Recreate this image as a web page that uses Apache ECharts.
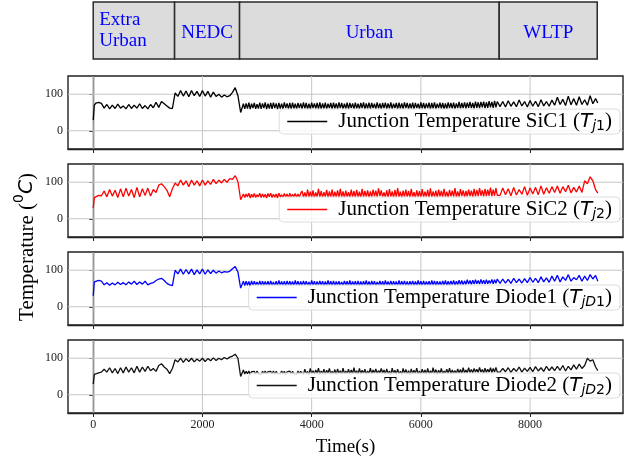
<!DOCTYPE html>
<html>
<head>
<meta charset="utf-8">
<script src="https://cdn.jsdelivr.net/npm/echarts@6/dist/echarts.min.js"></script>
<style>html,body{margin:0;padding:0;background:#fff;}#c{width:640px;height:464px;}</style>
</head>
<body>
<div id="c"></div>
<script>
const times = [0,20,50,100,150,200,250,300,350,400,450,500,550,600,650,700,750,800,850,900,950,1000,1050,1100,1150,1200,1250,1300,1350,1400,1450,1500,1550,1600,1650,1700,1750,1800,1850,1900,1950,2000,2050,2100,2150,2200,2250,2300,2350,2400,2450,2500,2550,2600,2650,2700,2750,
2775,2800,2825,2850,2875,2900,2925,2950,2975,
3000,3025,3050,3075,3100,3125,3150,3175,3200,3225,3250,3275,3300,3325,3350,3375,3400,3425,3450,3475,3500,3525,3550,3575,3600,3625,3650,3675,3700,3725,3750,3775,3800,3825,3850,3875,3900,3925,3950,3975,
4000,4025,4050,4075,4100,4125,4150,4175,4200,4225,4250,4275,4300,4325,4350,4375,4400,4425,4450,4475,4500,4525,4550,4575,4600,4625,4650,4675,4700,4725,4750,4775,4800,4825,4850,4875,4900,4925,4950,4975,
5000,5025,5050,5075,5100,5125,5150,5175,5200,5225,5250,5275,5300,5325,5350,5375,5400,5425,5450,5475,5500,5525,5550,5575,5600,5625,5650,5675,5700,5725,5750,5775,5800,5825,5850,5875,5900,5925,5950,5975,
6000,6025,6050,6075,6100,6125,6150,6175,6200,6225,6250,6275,6300,6325,6350,6375,6400,6425,6450,6475,6500,6525,6550,6575,6600,6625,6650,6675,6700,6725,6750,6775,6800,6825,6850,6875,6900,6925,6950,6975,
7000,7025,7050,7075,7100,7125,7150,7175,7200,7225,7250,7275,7300,7325,7350,7375,7400,
7450,7500,7550,7600,7650,7700,7750,7800,7850,7900,7950,8000,8050,8100,8150,8200,8250,8300,8350,8400,8450,8500,8550,8600,8650,8700,8750,8800,8850,8900,8950,9000,9050,9100,9150,9200,9240];

const sic1 = [29,70,76,78,75,62,72,60,70,61,73,62,68,60,72,61,70,62,74,61,69,60,72,63,78,64,80,74,68,62,61,104,94,110,95,109,93,110,96,108,94,110,95,108,92,106,94,100,92,98,93,96,105,118,96,50,74,
60,75,61,77,59,74,62,76,60,73,61,77,60,75,62,78,59,74,61,76,
60,77,62,75,59,76,61,74,60,78,62,75,60,76,59,77,61,74,60,76,
62,75,60,78,61,76,59,74,60,77,62,75,61,76,60,78,59,75,61,77,
60,74,62,76,59,77,61,75,60,78,62,76,60,74,61,77,59,76,62,75,
60,77,61,74,60,76,62,78,59,75,61,77,60,76,62,74,60,78,61,75,
59,76,62,77,60,75,61,78,60,74,62,76,59,77,61,75,60,78,62,76,
60,75,61,77,59,76,62,74,60,78,61,76,60,75,62,77,59,76,61,78,
60,74,62,77,61,76,59,75,60,78,62,76,61,77,60,75,62,79,61,76,
62,78,61,77,63,79,62,76,61,80,63,78,62,79,64,80,62,78,63,81,
64,79,63,82,64,80,
66,80,65,82,67,79,66,84,68,80,65,83,67,81,66,85,68,80,67,84,
70,92,72,86,69,95,71,88,70,93,72,85,70,96,74,88,76];

const sic2 = [29,58,62,64,63,76,60,80,62,78,58,82,60,84,62,80,58,86,60,82,64,84,62,80,72,92,96,88,78,60,82,98,90,106,92,104,88,106,92,104,90,106,92,104,94,108,96,106,98,108,100,110,108,118,102,52,68,
58,68,60,70,57,67,59,69,58,66,60,70,58,68,59,67,57,69,60,70,
58,67,59,68,57,70,60,66,58,69,59,68,57,70,58,67,60,69,58,68,59,70,
76,59,72,58,80,60,74,58,78,57,72,60,82,59,76,58,73,60,79,58,
75,59,80,57,74,60,78,58,82,59,75,57,77,60,73,58,80,59,76,58,
79,60,74,57,82,59,76,60,78,58,75,59,80,61,77,60,83,62,78,60,
72,59,78,58,81,60,75,57,79,59,84,60,74,58,77,59,80,60,76,58,
82,59,73,57,78,60,76,58,81,59,74,60,79,58,83,59,75,60,77,58,
80,61,76,59,82,60,74,58,79,61,77,60,84,59,75,60,81,62,78,60,
76,61,80,62,77,60,82,61,79,62,84,63,78,61,82,62,80,63,85,62,
80,63,84,64,
64,84,66,82,63,86,65,80,67,88,64,84,68,86,66,90,67,85,70,88,
72,90,70,88,74,92,71,86,73,90,72,104,96,115,104,80,70];

const diode1 = [30,68,72,72,70,60,66,59,65,60,67,61,66,60,68,62,70,61,68,62,70,60,64,66,72,76,78,72,64,60,58,100,90,103,89,102,90,103,88,101,90,103,89,101,91,100,92,98,93,96,95,97,104,110,95,51,70,
58,70,59,69,57,71,58,70,59,68,58,71,57,70,59,69,58,70,58,71,
59,68,57,70,58,72,59,69,58,70,57,71,59,70,58,69,58,72,59,70,
57,69,58,71,59,70,58,68,57,72,59,70,58,69,58,71,59,70,57,69,
58,72,59,70,58,71,57,69,59,70,58,68,58,71,59,70,57,72,58,69,
59,70,58,71,57,69,58,70,59,72,58,69,57,71,59,70,58,68,59,71,
58,70,57,72,59,69,58,71,58,70,59,69,57,72,58,70,59,71,58,69,
57,70,59,71,58,69,58,72,59,70,57,71,58,69,59,70,58,72,59,71,
58,70,59,69,58,71,59,72,58,70,59,71,60,72,59,70,60,73,61,72,
60,71,61,74,62,72,61,73,62,74,63,72,62,75,63,73,62,74,63,72,
64,75,63,74,64,76,
64,76,65,75,64,78,66,76,65,77,66,80,67,78,66,82,68,79,67,84,
70,86,68,82,72,88,70,80,74,86,70,84,72,88,76,86,70];

const diode2 = [29,56,58,60,62,70,62,74,60,72,58,74,60,76,62,74,60,78,62,76,64,78,66,72,64,80,85,76,70,58,72,96,90,100,89,99,91,100,90,98,92,100,91,99,93,101,94,100,96,102,98,103,106,111,100,50,68,
57,64,58,65,56,63,58,64,57,65,58,63,56,64,58,65,57,63,58,64,
57,65,56,64,58,63,57,65,58,64,56,63,58,65,57,64,58,63,56,65,57,64,
66,56,70,58,64,55,72,57,66,56,68,58,73,56,65,57,70,55,67,58,
72,56,64,57,69,55,71,58,66,56,73,57,65,58,70,56,68,57,74,58,
66,56,72,57,67,58,70,56,65,58,73,57,68,59,71,58,66,60,72,59,
68,56,71,57,65,55,73,58,67,56,70,57,64,56,72,58,69,57,66,55,
71,57,67,58,73,56,65,57,70,58,68,56,72,57,66,58,74,57,69,56,
67,58,72,57,65,59,70,58,73,57,68,59,66,58,71,59,69,58,74,60,
68,60,74,61,69,60,72,62,70,61,75,62,69,60,73,61,70,62,74,61,
72,62,75,62,
62,72,63,74,61,72,64,76,62,73,64,75,63,77,65,74,64,78,66,76,
66,78,67,80,65,78,68,82,70,84,72,80,100,92,96,76,66];

const xTicks = [0,2000,4000,6000,8000];
const yTicks = [0,100];
const segStart = [0,1490,2680,7435];
const segEnd = [1490,2680,7435,9230];
const segLabels = ['Extra\nUrban','NEDC','Urban','WLTP'];

const seriesNames = ['SiC1','SiC2','Diode1','Diode2'];
const seriesValues = [sic1, sic2, diode1, diode2];
const seriesColors = ['#000000','#ff0000','#0000ff','#111111'];
const legendSub = ['{s|j}{d|1}','{s|j}{d|2}','{s|jD}{d|1}','{s|jD}{d|2}'];

const X_MIN = -462, X_MAX = 9702, Y_MIN = -50, Y_MAX = 150;
const panelTops = [76,164,252,340];
const panelH = 73;
const LEFT = 68, RIGHT = 17;
const serif = 'Liberation Serif';

const grids = [{left: LEFT, right: RIGHT, top: 2, height: 57, show: false}];
const xAxes = [{gridIndex: 0, type: 'value', min: X_MIN, max: X_MAX, show: false}];
const yAxes = [{gridIndex: 0, type: 'value', min: 0, max: 1, show: false}];
const series = [{
  type: 'custom', xAxisIndex: 0, yAxisIndex: 0, silent: true,
  data: segStart.map((s, i) => [s, segEnd[i]]),
  encode: {x: [0, 1]},
  renderItem: function (params, api) {
    const p0 = api.coord([api.value(0), 1]);
    const p1 = api.coord([api.value(1), 0]);
    const i = params.dataIndex;
    const first = i === 0;
    return {
      type: 'group',
      children: [
        {type: 'rect', shape: {x: p0[0], y: p0[1], width: p1[0] - p0[0], height: p1[1] - p0[1]},
         style: {fill: '#dcdcdc', stroke: '#2a2a2a', lineWidth: 1.5}},
        {type: 'text', x: first ? p0[0] + 6 : (p0[0] + p1[0]) / 2, y: (p0[1] + p1[1]) / 2 + (first ? 0 : 3),
         style: {text: segLabels[i], fill: '#0000ff', font: '19px ' + serif,
                 textAlign: first ? 'left' : 'center', textVerticalAlign: 'middle', lineHeight: 21}}
      ]
    };
  }
}];
const legends = [];

panelTops.forEach((top, k) => {
  const gi = k + 1;
  grids.push({left: LEFT, right: RIGHT, top: top, height: panelH, show: true,
              borderColor: '#222', borderWidth: 1.4, backgroundColor: 'transparent'});
  xAxes.push({
    gridIndex: gi, type: 'value', min: X_MIN, max: X_MAX,
    splitLine: {show: false},
    axisLine: {show: true, onZero: false, lineStyle: {color: '#222', width: 1.4}},
    axisTick: {show: true, customValues: xTicks, length: 4, lineStyle: {color: '#222'}},
    axisLabel: {show: k === 3, customValues: xTicks, formatter: v => String(v),
                color: '#222', fontFamily: serif, fontSize: 12, margin: 6},
    name: k === 3 ? 'Time(s)' : '', nameLocation: 'middle', nameGap: 25,
    nameTextStyle: {fontFamily: serif, fontSize: 19, color: '#000'}
  });
  yAxes.push({
    gridIndex: gi, type: 'value', min: Y_MIN, max: Y_MAX,
    splitLine: {show: false},
    axisLine: {show: true, lineStyle: {color: '#222', width: 1.4}},
    axisTick: {show: true, customValues: yTicks, length: 4, lineStyle: {color: '#222'}},
    axisLabel: {show: true, customValues: yTicks, formatter: v => String(v),
                color: '#222', fontFamily: serif, fontSize: 12, margin: 5}
  });
  // grid lines at the tick values (drawn beneath the data)
  series.push({
    type: 'custom', name: 'grid' + k, xAxisIndex: gi, yAxisIndex: gi, z: 1, silent: true,
    data: xTicks.map(v => [v, 0]).concat(yTicks.map(v => [v, 1])),
    encode: {x: 0},
    renderItem: function (params, api) {
      const v = api.value(0), dir = api.value(1);
      let a, b;
      if (dir === 0) { a = api.coord([v, Y_MIN]); b = api.coord([v, Y_MAX]); }
      else { a = api.coord([X_MIN, v]); b = api.coord([X_MAX, v]); }
      return {type: 'line', shape: {x1: a[0], y1: a[1], x2: b[0], y2: b[1]},
              style: {stroke: '#c6c6c6', lineWidth: 1}};
    }
  });
  const vals = seriesValues[k];
  series.push({
    type: 'line', name: seriesNames[k], xAxisIndex: gi, yAxisIndex: gi, z: 3,
    data: times.map((t, i) => [t, vals[i]]),
    showSymbol: false, symbol: 'none', sampling: null, animation: false,
    lineStyle: {color: seriesColors[k], width: 1.3},
    itemStyle: {color: seriesColors[k]}
  });
  legends.push({
    data: [{name: seriesNames[k], icon: 'rect'}], right: 20, top: top + 33, orient: 'horizontal',
    backgroundColor: 'rgba(255,255,255,0.8)', borderColor: '#dddddd', borderWidth: 1, borderRadius: 4,
    padding: [1, 8, 1, 8], itemWidth: 40, itemHeight: 1.5, z: 4,
    formatter: function (name) {
      return 'Junction Temperature ' + name + ' ({t|T}' + legendSub[k] + ')';
    },
    textStyle: {
      fontFamily: serif, fontSize: 21, color: '#000', lineHeight: 23, padding: [0, 0, 0, 6],
      rich: {
        t: {fontFamily: 'DejaVu Sans', fontStyle: 'italic', fontSize: 20, color: '#000'},
        s: {fontFamily: 'DejaVu Sans', fontStyle: 'italic', fontSize: 14, color: '#000', lineHeight: 12, verticalAlign: 'bottom'},
        d: {fontFamily: 'DejaVu Sans', fontSize: 14, color: '#000', lineHeight: 12, verticalAlign: 'bottom'}
      }
    }
  });
});

const chart = echarts.init(document.getElementById('c'), null, {renderer: 'canvas'});
chart.setOption({
  animation: false,
  backgroundColor: '#fff',
  grid: grids, xAxis: xAxes, yAxis: yAxes, series: series, legend: legends,
  graphic: [{
    type: 'text', x: 27, y: 247, rotation: Math.PI / 2,
    style: {
      text: '{a|Temperature (}{sup|0}{it|C}{a|)}',
      textAlign: 'center', textVerticalAlign: 'middle',
      rich: {
        a: {fontFamily: serif, fontSize: 21, fill: '#000', lineHeight: 30},
        sup: {fontFamily: 'DejaVu Sans', fontSize: 14, fill: '#000', lineHeight: 16, verticalAlign: 'top'},
        it: {fontFamily: 'DejaVu Sans', fontStyle: 'italic', fontSize: 20, fill: '#000', lineHeight: 30}
      }
    }
  }]
});
</script>
</body>
</html>
